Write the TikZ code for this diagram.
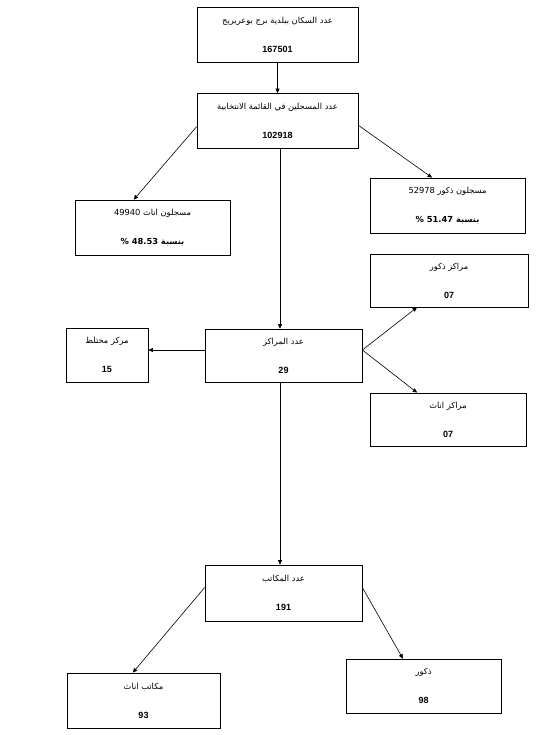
\documentclass[tikz,border=0pt]{standalone}
\usepackage{fontspec}
\setmainfont{Liberation Sans}
\newfontfamily\ar[Script=Arabic]{DejaVu Sans}
\TeXXeTstate=1
\usetikzlibrary{arrows.meta}

\newcommand{\numtxt}[1]{\textbf{\fontsize{9}{10}\selectfont #1}}

\begin{document}
\begin{tikzpicture}[
  x = 1pt,
  y = -1pt,
  box/.style = {
    shape = rectangle,
    draw = black,
    line width = 0.7pt,
    minimum height = 55pt,
    inner sep = 0pt,
    align = center,
    font = \fontsize{8.3}{10}\selectfont,
  },
  arrow/.style = {
    line width = 0.6pt,
    -{Triangle[length = 4.5pt, width = 4pt]}
  }
]
  \useasboundingbox (0, 0) rectangle (544, 735);

  \node[box, minimum width = 161pt] (pop) at (277.5, 35)
    {\ar\beginR عدد السكان ببلدية برج بوعريريج\endR\\[19pt]\numtxt{167501}};
  \node[box, minimum width = 161pt] (reg) at (277.5, 121)
    {\ar\beginR عدد المسجلين في القائمة الانتخابية\endR\\[19pt]\numtxt{102918}};
  \node[box, minimum width = 155pt] (fem) at (152.5, 227.5)
    {\ar\beginR مسجلون اناث \beginL49940\endL{}\endR\\[19pt]{\bfseries\ar\beginR بنسبة \beginL48.53\endL{} \%\endR}};
  \node[box, minimum width = 155pt] (mal) at (447.5, 205.5)
    {\ar\beginR مسجلون ذكور \beginL52978\endL{}\endR\\[19pt]{\bfseries\ar\beginR بنسبة \beginL51.47\endL{} \%\endR}};

  \node[box, minimum width = 158pt, minimum height = 53pt] (cmal) at (449, 280.5)
    {\ar\beginR مراكز ذكور\endR\\[19pt]\numtxt{07}};
  \node[box, minimum width = 82pt, minimum height = 54pt] (cmix) at (107, 355)
    {\ar\beginR مركز مختلط\endR\\[19pt]\numtxt{15}};
  \node[box, minimum width = 157pt, minimum height = 53pt] (cent) at (283.5, 355.5)
    {\ar\beginR عدد المراكز\endR\\[19pt]\numtxt{29}};
  \node[box, minimum width = 156pt, minimum height = 53pt] (cfem) at (448, 419.5)
    {\ar\beginR مراكز اناث\endR\\[19pt]\numtxt{07}};

  \node[box, minimum width = 157pt, minimum height = 56pt] (off) at (283.5, 593)
    {\ar\beginR عدد المكاتب\endR\\[19pt]\numtxt{191}};
  \node[box, minimum width = 153pt] (ofem) at (143.5, 700.5)
    {\ar\beginR مكاتب اناث\endR\\[19pt]\numtxt{93}};
  \node[box, minimum width = 155pt, minimum height = 54pt] (omal) at (423.5, 686)
    {\ar\beginR ذكور\endR\\[19pt]\numtxt{98}};

  \coordinate (trunk) at ([xshift = 2.5pt]reg.south);

  \draw[arrow] (pop.south) -- (reg.north);
  \draw[arrow] (reg.184) -- (fem.124);
  \draw[arrow] (reg.-3) -- (mal.119);
  \draw[arrow] (trunk) -- (trunk |- cent.north);

  \draw[arrow] (cent.176) -- (cent.176 -| cmix.east);
  \draw[arrow] (cent.4) -- (cmal.220);
  \draw[arrow] (cent.4) -- (cfem.139);
  \draw[arrow] (cent.south -| trunk) -- (trunk |- off.north);

  \draw[arrow] (off.176) -- (ofem.111);
  \draw[arrow] (off.4) -- (omal.127);
\end{tikzpicture}
\end{document}
